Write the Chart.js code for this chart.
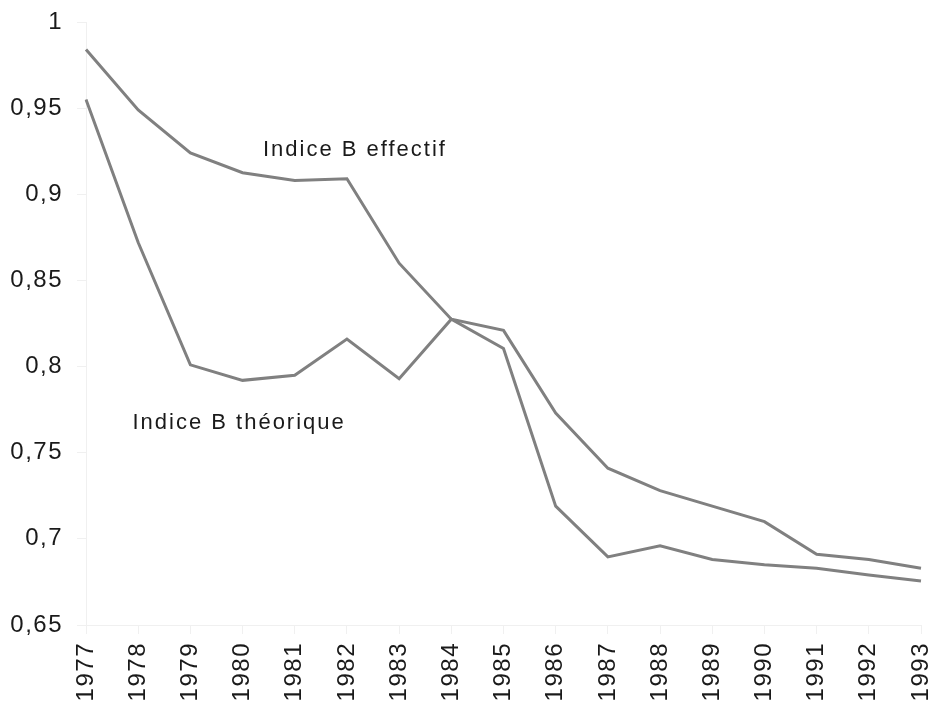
<!DOCTYPE html>
<html>
<head>
<meta charset="utf-8">
<script src="https://cdn.jsdelivr.net/npm/chart.js@4"></script>
<style>
  html, body { margin: 0; padding: 0; background: #fff; }
  #wrap { width: 932px; height: 709px; }
</style>
</head>
<body>
<div id="wrap"><canvas id="indiceChart"></canvas></div>
<script>
const years = ['1977','1978','1979','1980','1981','1982','1983','1984','1985','1986','1987','1988','1989','1990','1991','1992','1993'];
const effectif = [0.984, 0.949, 0.924, 0.9125, 0.908, 0.909, 0.860, 0.8275, 0.821, 0.773, 0.741, 0.728, 0.719, 0.710, 0.691, 0.688, 0.683];
const theorique = [0.955, 0.872, 0.801, 0.792, 0.795, 0.816, 0.793, 0.8275, 0.8105, 0.719, 0.6895, 0.696, 0.688, 0.685, 0.683, 0.679, 0.6755];
// text labels placed in data space: [category index, value, text]
const seriesLabels = [
  [3.39, 0.9224, 'Indice B effectif'],
  [0.89, 0.764, 'Indice B théorique']
];

const FONT = '"Liberation Sans", Arial, sans-serif';
const LINE = '#808080';
const FAINT = '#f0f0f0';

// letter spacing + series captions
const textPlugin = {
  id: 'textPlugin',
  beforeDraw(chart) {
    chart.ctx.letterSpacing = '1.5px';
  },
  afterDatasetsDraw(chart) {
    const ctx = chart.ctx;
    const xs = chart.scales.x, ys = chart.scales.y;
    ctx.save();
    ctx.letterSpacing = '2px';
    ctx.font = '22px ' + FONT;
    ctx.fillStyle = '#1a1a1a';
    ctx.textAlign = 'left';
    ctx.textBaseline = 'alphabetic';
    seriesLabels.forEach(l => {
      ctx.fillText(l[2], xs.getPixelForValue(l[0]), ys.getPixelForValue(l[1]));
    });
    ctx.restore();
  }
};

// no extra room for edge labels, the chart area is fixed by layout padding
const noPad = s => { s.paddingTop = 0; s.paddingBottom = 0; s.paddingLeft = 0; s.paddingRight = 0; };

const ctx = document.getElementById('indiceChart').getContext('2d');
new Chart(ctx, {
  type: 'line',
  data: {
    labels: years,
    datasets: [
      { label: 'Indice B effectif', data: effectif, borderColor: LINE, borderWidth: 3, pointRadius: 0, tension: 0, fill: false },
      { label: 'Indice B théorique', data: theorique, borderColor: LINE, borderWidth: 3, pointRadius: 0, tension: 0, fill: false }
    ]
  },
  options: {
    responsive: true,
    maintainAspectRatio: false,
    animation: false,
    layout: { padding: { left: 0, right: 11, top: 22, bottom: 0 } },
    plugins: { legend: { display: false }, tooltip: { enabled: false } },
    scales: {
      x: {
        offset: false,
        grid: { drawOnChartArea: false, color: FAINT, tickLength: 9 },
        border: { color: FAINT },
        ticks: { minRotation: 90, maxRotation: 90, padding: 8, color: '#1a1a1a', font: { family: FONT, size: 24 } },
        afterFit: s => { s.height = 84; noPad(s); }
      },
      y: {
        min: 0.65,
        max: 1,
        grid: { drawOnChartArea: false, color: FAINT, tickLength: 9 },
        border: { color: FAINT },
        ticks: {
          stepSize: 0.05,
          padding: 14,
          color: '#1a1a1a',
          font: { family: FONT, size: 24 },
          callback: v => String(+v.toFixed(2)).replace('.', ',')
        },
        afterFit: s => { s.width = 86; noPad(s); }
      }
    }
  },
  plugins: [textPlugin]
});
</script>
</body>
</html>
